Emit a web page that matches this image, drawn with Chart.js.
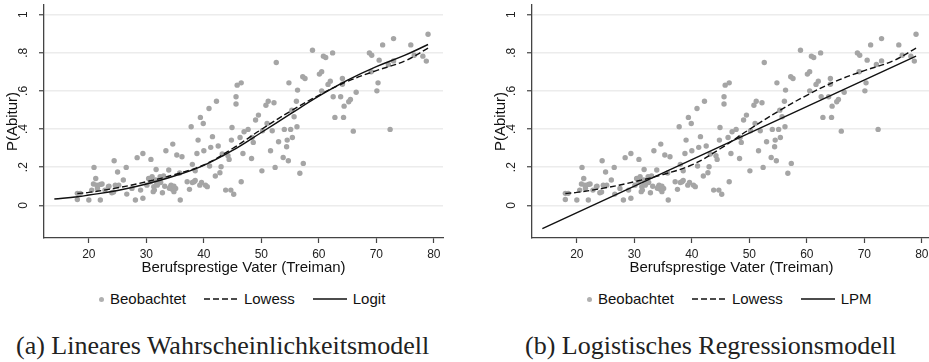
<!DOCTYPE html>
<html>
<head>
<meta charset="utf-8">
<script src="https://cdn.jsdelivr.net/npm/chart.js@4/dist/chart.umd.min.js"></script>
<style>
  body { margin: 0; width: 929px; height: 362px; overflow: hidden; background: #fff; position: relative; }
  .panel { position: absolute; top: 0; width: 460px; height: 282px; }
  .legend { position: absolute; top: 291px; height: 16px; display: flex; align-items: center;
            font-family: "Liberation Sans", Arial, sans-serif; font-size: 15px; line-height: 16px; color: #111; white-space: nowrap; }
  .legend .dot { width: 5px; height: 5px; border-radius: 50%; background: #b0b0b0; margin-right: 6px; }
  .legend svg { margin-left: 18px; margin-right: 6px; }
  .caption { position: absolute; top: 333px; font-family: "Liberation Serif", "Times New Roman", serif;
             font-size: 26px; line-height: 26px; color: #222; white-space: nowrap; }
</style>
</head>
<body>
<div class="panel" style="left:0"><canvas id="chartA" width="460" height="282"></canvas></div>
<div class="panel" style="left:488px"><canvas id="chartB" width="460" height="282"></canvas></div>
<div class="legend" id="legendA" style="left:99px"></div>
<div class="legend" id="legendB" style="left:587px"></div>
<div class="caption" style="left:16px">(a) Lineares Wahrscheinlichkeitsmodell</div>
<div class="caption" style="left:525px">(b) Logistisches Regressionsmodell</div>
<script>
// observed shares (same data in both panels)
var obsX = [18.0, 18.0, 18.5, 20.0, 20.5, 20.9, 21.2, 20.8, 21.4, 22.0,
  22.3, 22.8, 23.4, 24.0, 24.4, 24.6, 25.0, 25.2, 26.0, 26.5,
  26.6, 27.5, 28.1, 28.4, 29.0, 29.4, 29.4, 30.1, 30.4, 30.8,
  30.7, 31.0, 31.3, 31.6, 31.7, 31.9, 31.2, 31.4, 32.2, 32.4,
  32.8, 33.0, 33.4, 33.9, 34.3, 34.6, 34.2, 34.5, 34.8, 35.1,
  35.3, 35.9, 36.2, 37.1, 37.5, 37.8, 38.0, 38.3, 38.5, 38.8,
  39.0, 39.4, 39.3, 39.9, 40.0, 40.3, 40.6, 40.9, 41.0, 41.2,
  41.5, 42.0, 42.2, 42.5, 42.8, 43.0, 43.2, 43.8, 44.4, 44.7,
  44.9, 44.8, 45.2, 45.6, 45.8, 46.5, 45.6, 46.3, 46.5, 46.8,
  47.0, 47.7, 48.3, 48.4, 49.0, 49.5, 50.1, 50.2, 50.8, 51.2,
  51.0, 51.6, 51.9, 52.2, 52.4, 52.6, 53.0, 53.8, 54.0, 54.4,
  54.5, 54.7, 54.8, 55.1, 55.3, 55.4, 55.7, 56.2, 56.3, 56.1,
  56.7, 57.2, 57.6, 57.3, 58.9, 60.1, 60.5, 60.5, 60.8, 61.2,
  61.6, 62.0, 62.4, 62.5, 62.8, 63.8, 64.1, 64.1, 64.3, 64.4,
  65.2, 65.5, 66.0, 66.5, 68.8, 69.2, 69.1, 70.1, 70.3, 70.5,
  71.1, 72.1, 72.4, 73.0, 73.0, 76.0, 76.6, 78.1, 78.7, 79.0,
  30.5, 31.8, 32.5, 33.2, 34.0, 34.8, 35.8, 38.5, 38.0, 22.0,
  21.5, 23.5, 24.3, 39.6, 44.2, 48.6];
var obsY = [0.031, 0.063, 0.063, 0.028, 0.080, 0.199, 0.141, 0.112, 0.106, 0.028,
  0.112, 0.080, 0.098, 0.066, 0.234, 0.106, 0.175, 0.106, 0.133, 0.199,
  0.059, 0.089, 0.028, 0.250, 0.080, 0.272, 0.037, 0.106, 0.141, 0.241,
  0.124, 0.150, 0.098, 0.133, 0.188, 0.106, 0.072, 0.080, 0.124, 0.150,
  0.066, 0.154, 0.286, 0.185, 0.106, 0.321, 0.098, 0.084, 0.072, 0.089,
  0.264, 0.028, 0.255, 0.124, 0.084, 0.412, 0.215, 0.124, 0.181, 0.272,
  0.342, 0.461, 0.106, 0.429, 0.286, 0.106, 0.098, 0.508, 0.206, 0.304,
  0.360, 0.154, 0.546, 0.311, 0.171, 0.202, 0.269, 0.080, 0.241, 0.080,
  0.408, 0.342, 0.058, 0.569, 0.630, 0.642, 0.531, 0.356, 0.124, 0.272,
  0.386, 0.398, 0.246, 0.356, 0.447, 0.473, 0.181, 0.391, 0.525, 0.546,
  0.429, 0.286, 0.391, 0.538, 0.199, 0.749, 0.333, 0.251, 0.398, 0.307,
  0.342, 0.234, 0.642, 0.398, 0.499, 0.356, 0.464, 0.412, 0.604, 0.546,
  0.168, 0.674, 0.665, 0.220, 0.813, 0.688, 0.700, 0.600, 0.782, 0.775,
  0.634, 0.651, 0.799, 0.569, 0.461, 0.569, 0.665, 0.635, 0.461, 0.520,
  0.543, 0.555, 0.389, 0.593, 0.799, 0.787, 0.700, 0.600, 0.642, 0.761,
  0.841, 0.738, 0.398, 0.874, 0.757, 0.841, 0.787, 0.782, 0.756, 0.897,
  0.140, 0.110, 0.120, 0.100, 0.090, 0.100, 0.170, 0.130, 0.120, 0.110,
  0.090, 0.100, 0.070, 0.120, 0.260, 0.330];

// fitted curves
var lowessX = [18, 20, 25, 30, 35, 40, 45, 50, 55, 60, 65, 70, 75, 79];
var lowessY = [0.062, 0.068, 0.092, 0.124, 0.162, 0.212, 0.298, 0.398, 0.492, 0.577, 0.650, 0.706, 0.757, 0.824];
var logitX = [14, 18, 20, 25, 30, 35, 40, 45, 50, 55, 60, 65, 70, 75, 79];
var logitY = [0.033, 0.045, 0.054, 0.078, 0.112, 0.155, 0.21, 0.288, 0.382, 0.478, 0.572, 0.656, 0.727, 0.787, 0.843];
var lpmX = [14, 79];
var lpmY = [-0.122, 0.782];

var xTicks = [20, 30, 40, 50, 60, 70, 80];
var yTicks = [0, 0.2, 0.4, 0.6, 0.8, 1];
var yTickLabels = ['0', '.2', '.4', '.6', '.8', '1'];

var FONT = '"Liberation Sans", Arial, sans-serif';
var AXIS = '#444';

function points(xs, ys) {
  return xs.map(function (x, i) { return {x: x, y: ys[i]}; });
}

function makeChart(id, fitLabel, fitX, fitY) {
  return new Chart(document.getElementById(id), {
    type: 'scatter',
    data: {
      datasets: [
        {
          label: fitLabel, type: 'line', data: points(fitX, fitY),
          borderColor: '#111', borderWidth: 1.4, pointRadius: 0,
          tension: 0.4, order: 0
        },
        {
          label: 'Lowess', type: 'line', data: points(lowessX, lowessY),
          borderColor: '#111', borderWidth: 1.4, borderDash: [6, 3], pointRadius: 0,
          tension: 0.4, order: 1
        },
        {
          label: 'Beobachtet', data: points(obsX, obsY),
          backgroundColor: '#a5a5a5', borderWidth: 0, pointRadius: 2.7, order: 2
        }
      ]
    },
    options: {
      responsive: false,
      animation: false,
      layout: { padding: { top: 5, right: 17, left: 0, bottom: 0 } },
      plugins: { legend: { display: false }, tooltip: { enabled: false } },
      scales: {
        x: {
          type: 'linear', min: 12.2, max: 81.6,
          afterBuildTicks: function (s) { s.ticks = xTicks.map(function (v) { return {value: v}; }); },
          afterFit: function (s) { s.height = 44; s.paddingLeft = 0; s.paddingRight = 0; },
          grid: { drawOnChartArea: false, tickLength: 5, tickColor: AXIS, tickWidth: 1.2 },
          border: { color: AXIS, width: 1.3 },
          ticks: { font: { family: FONT, size: 12 }, color: '#222', padding: 4.5, maxRotation: 0, autoSkip: false },
          title: { display: true, text: 'Berufsprestige Vater (Treiman)', color: '#111',
                   font: { family: FONT, size: 15 }, padding: { top: 0, bottom: 5 } }
        },
        y: {
          type: 'linear', min: -0.171, max: 1.05,
          afterBuildTicks: function (s) { s.ticks = yTicks.map(function (v) { return {value: v}; }); },
          afterFit: function (s) { s.width = 44; s.paddingTop = 0; s.paddingBottom = 0; },
          grid: { color: '#ececec', lineWidth: 1.5, tickLength: 5, tickColor: AXIS, tickWidth: 1.2 },
          border: { color: AXIS, width: 1.3 },
          ticks: {
            font: { family: FONT, size: 12 }, color: '#222', padding: 10.5,
            minRotation: 90, maxRotation: 90, crossAlign: 'center', autoSkip: false,
            callback: function (v, i) { return yTickLabels[i]; }
          },
          title: { display: true, text: 'P(Abitur)', color: '#111',
                   font: { family: FONT, size: 15 }, padding: { top: 4, bottom: 0 } }
        }
      }
    }
  });
}

function buildLegend(id, names) {
  var el = document.getElementById(id);
  var html = '<span class="dot"></span><span>' + names[0] + '</span>';
  html += '<svg width="34" height="4"><line x1="0" y1="2" x2="34" y2="2" stroke="#111" stroke-width="1.4" stroke-dasharray="6 3"/></svg>';
  html += '<span>' + names[1] + '</span>';
  html += '<svg width="34" height="4"><line x1="0" y1="2" x2="34" y2="2" stroke="#111" stroke-width="1.4"/></svg>';
  html += '<span>' + names[2] + '</span>';
  el.innerHTML = html;
}

makeChart('chartA', 'Logit', logitX, logitY);
makeChart('chartB', 'LPM', lpmX, lpmY);
buildLegend('legendA', ['Beobachtet', 'Lowess', 'Logit']);
buildLegend('legendB', ['Beobachtet', 'Lowess', 'LPM']);
</script>
</body>
</html>
